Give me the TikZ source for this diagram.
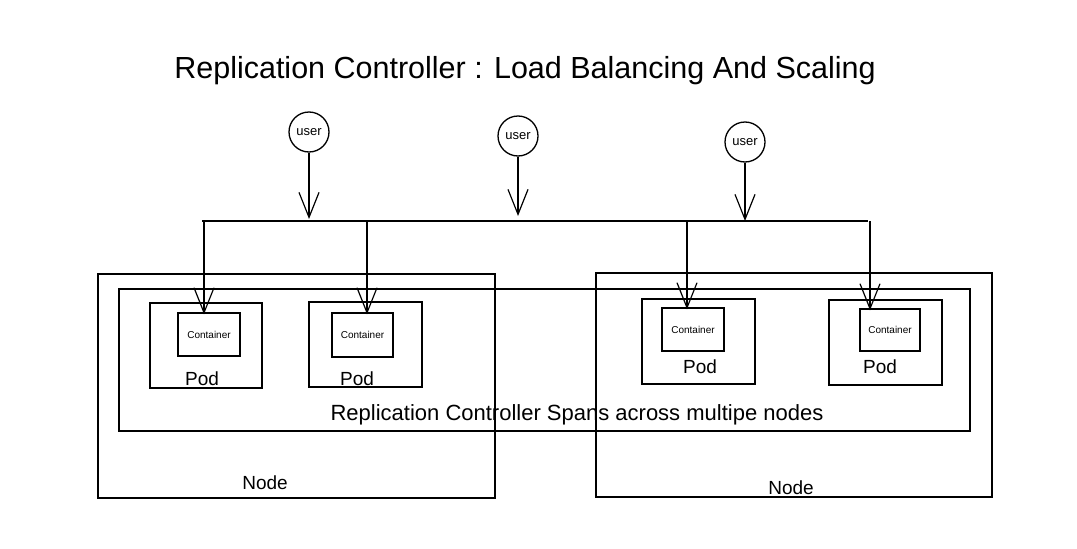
\documentclass[tikz,border=0pt]{standalone}
\usepackage{fontspec}
\setmainfont{Liberation Sans}
\usetikzlibrary{arrows.meta}
\begin{document}
\begin{tikzpicture}[x=1pt,y=-1pt,
  line width=1.2pt,
  box/.style={draw, line width=1.3pt, inner sep=0pt, rectangle},
  usr/.style={draw, circle, line width=1.3pt, minimum size=40pt, inner sep=0pt, font=\fontsize{13}{15}\selectfont},
  ctext/.style={font=\fontsize{10}{12}\selectfont},
  podtext/.style={font=\fontsize{19}{22}\selectfont},
  arr/.style={-{Straight Barb[length=25pt,width=20pt]}, line width=1.2pt}
]
\useasboundingbox (0,0) rectangle (1077,549);
\fill[white] (0,0) rectangle (1077,549);

% title
\node[font=\fontsize{30.5}{36}\selectfont] (title) at (525,71) {Replication Controller : Load Balancing And Scaling};

% worker nodes and replication controller
\node[box, minimum width=397pt, minimum height=224pt] (n1) at (296.5,386) {};
\node[box, minimum width=396pt, minimum height=224pt] (n2) at (794,385) {};
\node[box, minimum width=851pt, minimum height=142pt] (rc) at (544.5,360) {};

% pods
\node[box, minimum width=112pt, minimum height=85pt] (p1) at (206,345.5) {};
\node[box, minimum width=113pt, minimum height=85pt] (p2) at (365.5,344.5) {};
\node[box, minimum width=113pt, minimum height=85pt] (p3) at (698.5,341.5) {};
\node[box, minimum width=113pt, minimum height=85pt] (p4) at (885.5,342.5) {};

% containers
\node[box, ctext, minimum width=62pt, minimum height=43pt] (c1) at (209,334.5) {Container};
\node[box, ctext, minimum width=61pt, minimum height=44pt] (c2) at (362.5,335) {Container};
\node[box, ctext, minimum width=62pt, minimum height=43pt] (c3) at (693,329.5) {Container};
\node[box, ctext, minimum width=60pt, minimum height=42pt] (c4) at (890,330) {Container};

% labels
\node[podtext] (pl1) at (202,379) {Pod};
\node[podtext] (pl2) at (357,379) {Pod};
\node[podtext] (pl3) at (700,367) {Pod};
\node[podtext] (pl4) at (880,367) {Pod};
\node[font=\fontsize{22}{26}\selectfont] (rcl) at (577,415) {Replication Controller Spans across multipe nodes};
\node[podtext] (nl1) at (265,483) {Node};
\node[podtext] (nl2) at (791,488) {Node};

% users
\node[usr] (u1) at (309,132) {user};
\node[usr] (u2) at (518,136) {user};
\node[usr] (u3) at (745,142) {user};

% bus
\coordinate (busL) at (202,221);
\coordinate (busR) at (868,221);
\draw (busL) -- (busR);
\coordinate (b1) at (309,219);
\coordinate (b2) at (518,216);
\coordinate (b3) at (745,221);
\draw[arr] (u1) -- (b1);
\draw[arr] (u2) -- (b2);
\draw[arr] (u3) -- (b3);

% down arrows
\coordinate (d1) at (204,221);
\coordinate (d2) at (367,221);
\coordinate (d3) at (687,221);
\coordinate (d4) at (870,221);
\draw[arr] (d1) -- ([yshift=-2pt]d1 |- c1.north);
\draw[arr] (d2) -- ([yshift=-2pt]d2 |- c2.north);
\draw[arr] (d3) -- ([yshift=-2pt]d3 |- c3.north);
\draw[arr] (d4) -- ([yshift=-2pt]d4 |- c4.north);
\end{tikzpicture}
\end{document}
